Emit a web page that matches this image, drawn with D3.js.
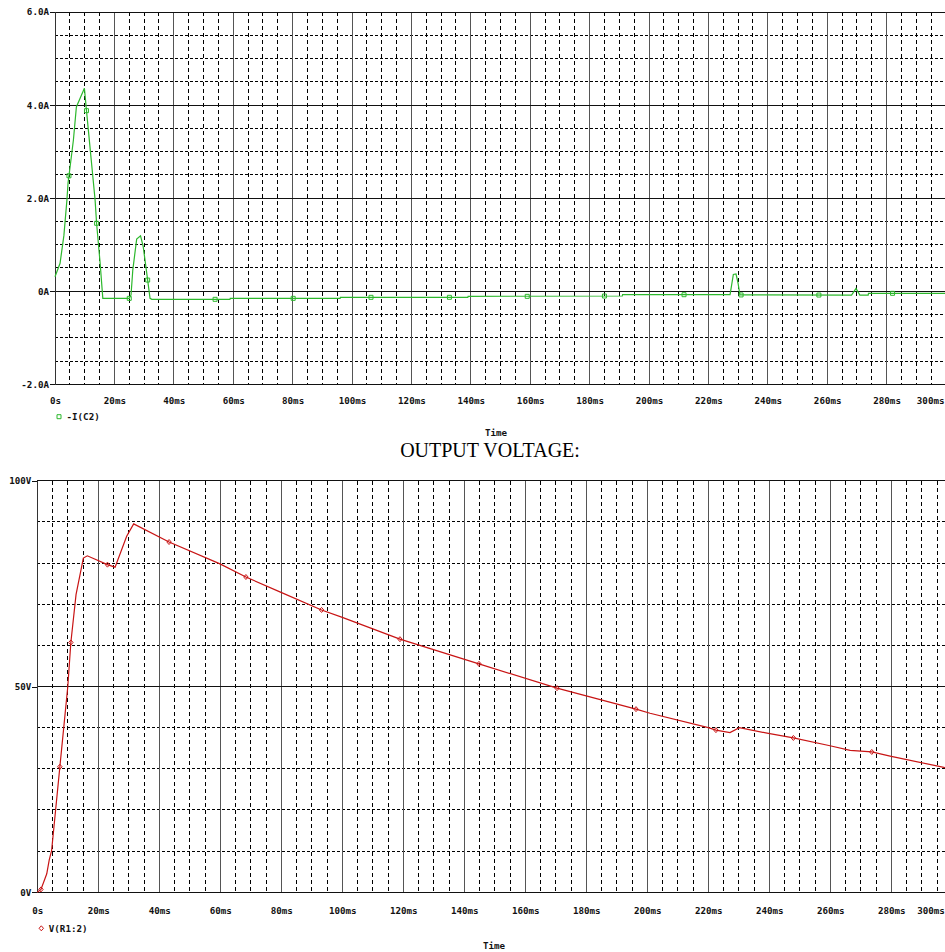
<!DOCTYPE html>
<html>
<head>
<meta charset="utf-8">
<script src="https://cdn.jsdelivr.net/npm/d3@7"></script>
<style>
  html, body { margin: 0; padding: 0; background: #fff; }
  svg { display: block; }
  .tick-label { font-family: "DejaVu Sans Mono", monospace; font-weight: bold; font-size: 9.2px; fill: #111; }
</style>
</head>
<body>
<svg id="chart" width="945" height="952"></svg>
<script>
// ---- Capacitor current -I(C2): time (ms), current (A)
const currentTime = [0, 1.7, 3.0, 4.0, 4.4, 4.7, 6.2, 7.2, 9.9, 10.6, 13.5, 14.0, 15.2, 16.1, 25.0,
  25.6, 26.2, 27.5, 28.8, 29.7, 31.2, 32.0, 32.6, 58.9, 59.0, 96.0, 96.1, 139.0, 139.1, 191.0, 191.1,
  227.3, 228.4, 229.3, 230.0, 230.6, 268.2, 269.7, 271.0, 273.8, 273.9, 300];
const currentValue = [0.31, 0.6, 1.2, 1.95, 2.33, 2.48, 3.25, 3.96, 4.36, 3.88, 1.96, 1.46, 0.6, -0.153, -0.153,
  -0.08, 0.46, 1.12, 1.19, 0.96, 0.24, -0.153, -0.174, -0.174, -0.153, -0.153, -0.131, -0.131, -0.11, -0.103, -0.075,
  -0.075, 0.36, 0.37, 0.17, -0.08, -0.082, 0.06, -0.082, -0.082, -0.045, -0.045];
const currentMarkerTime = [4.7, 10.6, 14.0, 25.0, 31.2, 53.9, 80.2, 106.4, 132.8, 159.0, 185.0, 211.8, 231.0, 257.2, 282.0];
const currentMarkerValue = [2.48, 3.88, 1.46, -0.153, 0.24, -0.174, -0.153, -0.131, -0.131, -0.11, -0.103, -0.075, -0.08, -0.082, -0.045];

// ---- Output voltage V(R1:2): time (ms), voltage (V)
const voltageTime = [0, 1.2, 2.5, 3.1, 3.9, 4.7, 7.4, 10.0, 11.0, 12.7, 15.1, 16.4, 23.0, 25.5, 29.3, 31.6,
  43.2, 59.9, 68.4, 80.1, 93.2, 100, 118.9, 144.8, 170.4, 196.3, 200.9, 220, 222.5, 227.1, 230.2,
  239.7, 247.9, 259.9, 266.5, 273.6, 279.6, 294.9, 300];
const voltageValue = [0, 0.7, 3.3, 4.5, 7.8, 10.2, 30.5, 50, 60.7, 72.3, 81.2, 81.75, 79.6, 79.0, 86.5, 89.5,
  85.1, 79.8, 76.6, 72.8, 68.6, 66.8, 61.5, 55.5, 49.6, 44.5, 43.5, 40, 39.4, 38.8, 40,
  38.6, 37.5, 35.6, 34.5, 34.1, 33.1, 30.7, 29.9];
const voltageMarkerTime = [1.2, 7.4, 11.0, 23.0, 43.2, 68.4, 93.2, 118.9, 144.8, 170.4, 196.3, 222.5, 247.9, 273.6];
const voltageMarkerValue = [0.7, 30.5, 60.7, 79.6, 85.1, 76.6, 68.6, 61.5, 55.5, 49.6, 44.5, 39.4, 37.5, 34.1];

// ---- Axis ticks
const timeTicks = [0, 20, 40, 60, 80, 100, 120, 140, 160, 180, 200, 220, 240, 260, 280, 300];
const timeLabels = ["0s", "20ms", "40ms", "60ms", "80ms", "100ms", "120ms", "140ms", "160ms", "180ms",
  "200ms", "220ms", "240ms", "260ms", "280ms", "300ms"];
const currentTicks = [-2, 0, 2, 4, 6];
const currentLabels = ["-2.0A", "0A", "2.0A", "4.0A", "6.0A"];
const voltageTicks = [0, 50, 100];
const voltageLabels = ["0V", "50V", "100V"];

const svg = d3.select("#chart");

function drawPanel(cfg) {
  const g = svg.append("g");
  const x = cfg.x, y = cfg.y;
  const [x0, x1] = x.range();
  const [y0, y1] = y.range(); // y0 bottom, y1 top

  // minor vertical grid (every 5 ms, dashed)
  const minorT = d3.range(0, 301, 5).filter(t => t % 20 !== 0);
  g.append("g").selectAll("line").data(minorT).join("line")
    .attr("x1", d => x(d)).attr("x2", d => x(d))
    .attr("y1", y1).attr("y2", y0)
    .attr("stroke", "#000").attr("stroke-dasharray", "4,3")
    .attr("shape-rendering", "crispEdges");

  // minor horizontal grid (dashed)
  g.append("g").selectAll("line").data(cfg.minorY).join("line")
    .attr("x1", x0).attr("x2", x1)
    .attr("y1", d => y(d)).attr("y2", d => y(d))
    .attr("stroke", "#000").attr("stroke-dasharray", "3,2")
    .attr("shape-rendering", "crispEdges");

  // major vertical grid (every 20 ms, solid)
  g.append("g").selectAll("line").data(timeTicks).join("line")
    .attr("x1", d => x(d)).attr("x2", d => x(d))
    .attr("y1", y1).attr("y2", y0)
    .attr("stroke", "#555")
    .attr("shape-rendering", "crispEdges");

  // major horizontal grid (solid)
  g.append("g").selectAll("line").data(cfg.majorY).join("line")
    .attr("x1", x0).attr("x2", x1)
    .attr("y1", d => y(d)).attr("y2", d => y(d))
    .attr("stroke", "#111")
    .attr("shape-rendering", "crispEdges");

  // y axis: ticks + labels
  const yAxis = d3.axisLeft(y).tickValues(cfg.yTicks)
    .tickFormat((d, i) => cfg.yLabels[i]).tickSize(5).tickPadding(1);
  const ya = g.append("g").attr("transform", `translate(${x0},0)`).call(yAxis);
  ya.select(".domain").attr("stroke", "#333").attr("shape-rendering", "crispEdges");
  ya.selectAll(".tick line").attr("stroke", "#111").attr("shape-rendering", "crispEdges");
  ya.selectAll(".tick text").attr("class", "tick-label").attr("font-family", null).attr("font-size", null);

  // x axis labels; the last one is pulled in to sit at the right edge
  const last = timeTicks.length - 1;
  const xAxis = d3.axisBottom(x).tickValues(timeTicks)
    .tickFormat((d, i) => timeLabels[i]).tickSize(0).tickPadding(0);
  const xa = g.append("g").attr("transform", `translate(0,${cfg.xLabelY})`).call(xAxis);
  xa.select(".domain").remove();
  xa.selectAll(".tick text").attr("class", "tick-label").attr("font-family", null).attr("font-size", null)
    .attr("dy", "0.32em").attr("y", 0)
    .attr("text-anchor", (d, i) => i === last ? "end" : "middle")
    .attr("dx", (d, i) => i === last ? cfg.lastLabelShift : 0);

  // series line
  const pts = cfg.t.map((t, i) => [t, cfg.v[i]]);
  g.append("path").datum(pts)
    .attr("fill", "none").attr("stroke", cfg.color).attr("stroke-width", 1.2)
    .attr("d", d3.line().x(d => x(d[0])).y(d => y(d[1])));

  // series markers
  const mk = cfg.mt.map((t, i) => [t, cfg.mv[i]]);
  g.append("g").selectAll("path").data(mk).join("path")
    .attr("transform", d => `translate(${x(d[0])},${y(d[1])})`)
    .attr("d", cfg.markerPath)
    .attr("fill", "none").attr("stroke", cfg.color).attr("stroke-width", 1);

  // legend
  g.append("path").attr("transform", `translate(${cfg.legendX},${cfg.legendY})`)
    .attr("d", cfg.markerPath).attr("fill", "none").attr("stroke", cfg.color).attr("stroke-width", 1);
  g.append("text").attr("class", "tick-label")
    .attr("x", cfg.legendX + 7.5).attr("y", cfg.legendY).attr("dy", "0.35em")
    .text(cfg.legendText);

  // axis title
  g.append("text").attr("class", "tick-label")
    .attr("x", cfg.timeX).attr("y", cfg.timeY).attr("dy", "0.35em")
    .attr("text-anchor", "middle").attr("font-size", "8.5px")
    .text("Time");
}

const squarePath = "M-2,-2H2V2H-2Z";
const diamondPath = "M0,-2.5L2.2,0L0,2.5L-2.2,0Z";

// upper panel: capacitor current
drawPanel({
  x: d3.scaleLinear().domain([0, 300]).range([55, 946]),
  y: d3.scaleLinear().domain([-2, 6]).range([384.3, 12]),
  minorY: d3.range(-2, 6.01, 0.5).filter(v => Math.abs(v % 2) > 1e-9),
  majorY: [-2, 0, 2, 4, 6],
  yTicks: currentTicks, yLabels: currentLabels,
  xLabelY: 401, lastLabelShift: -2,
  t: currentTime, v: currentValue, mt: currentMarkerTime, mv: currentMarkerValue,
  color: "#2db82d", markerPath: squarePath,
  legendX: 59, legendY: 416.7, legendText: "-I(C2)",
  timeX: 496, timeY: 433
});

// title between panels
svg.append("text")
  .attr("x", 490).attr("y", 457)
  .attr("text-anchor", "middle")
  .attr("font-family", "'Liberation Serif', 'Times New Roman', serif")
  .attr("font-size", "20px").attr("fill", "#000")
  .text("OUTPUT VOLTAGE:");

// lower panel: output voltage
drawPanel({
  x: d3.scaleLinear().domain([0, 300]).range([37.3, 952.3]),
  y: d3.scaleLinear().domain([0, 100]).range([892.3, 480.7]),
  minorY: d3.range(10, 100, 10).filter(v => v !== 50),
  majorY: [0, 50, 100],
  yTicks: voltageTicks, yLabels: voltageLabels,
  xLabelY: 910.7, lastLabelShift: -8,
  t: voltageTime, v: voltageValue, mt: voltageMarkerTime, mv: voltageMarkerValue,
  color: "#c81414", markerPath: diamondPath,
  legendX: 41.3, legendY: 928.3, legendText: "V(R1:2)",
  timeX: 494, timeY: 946
});
</script>
</body>
</html>
